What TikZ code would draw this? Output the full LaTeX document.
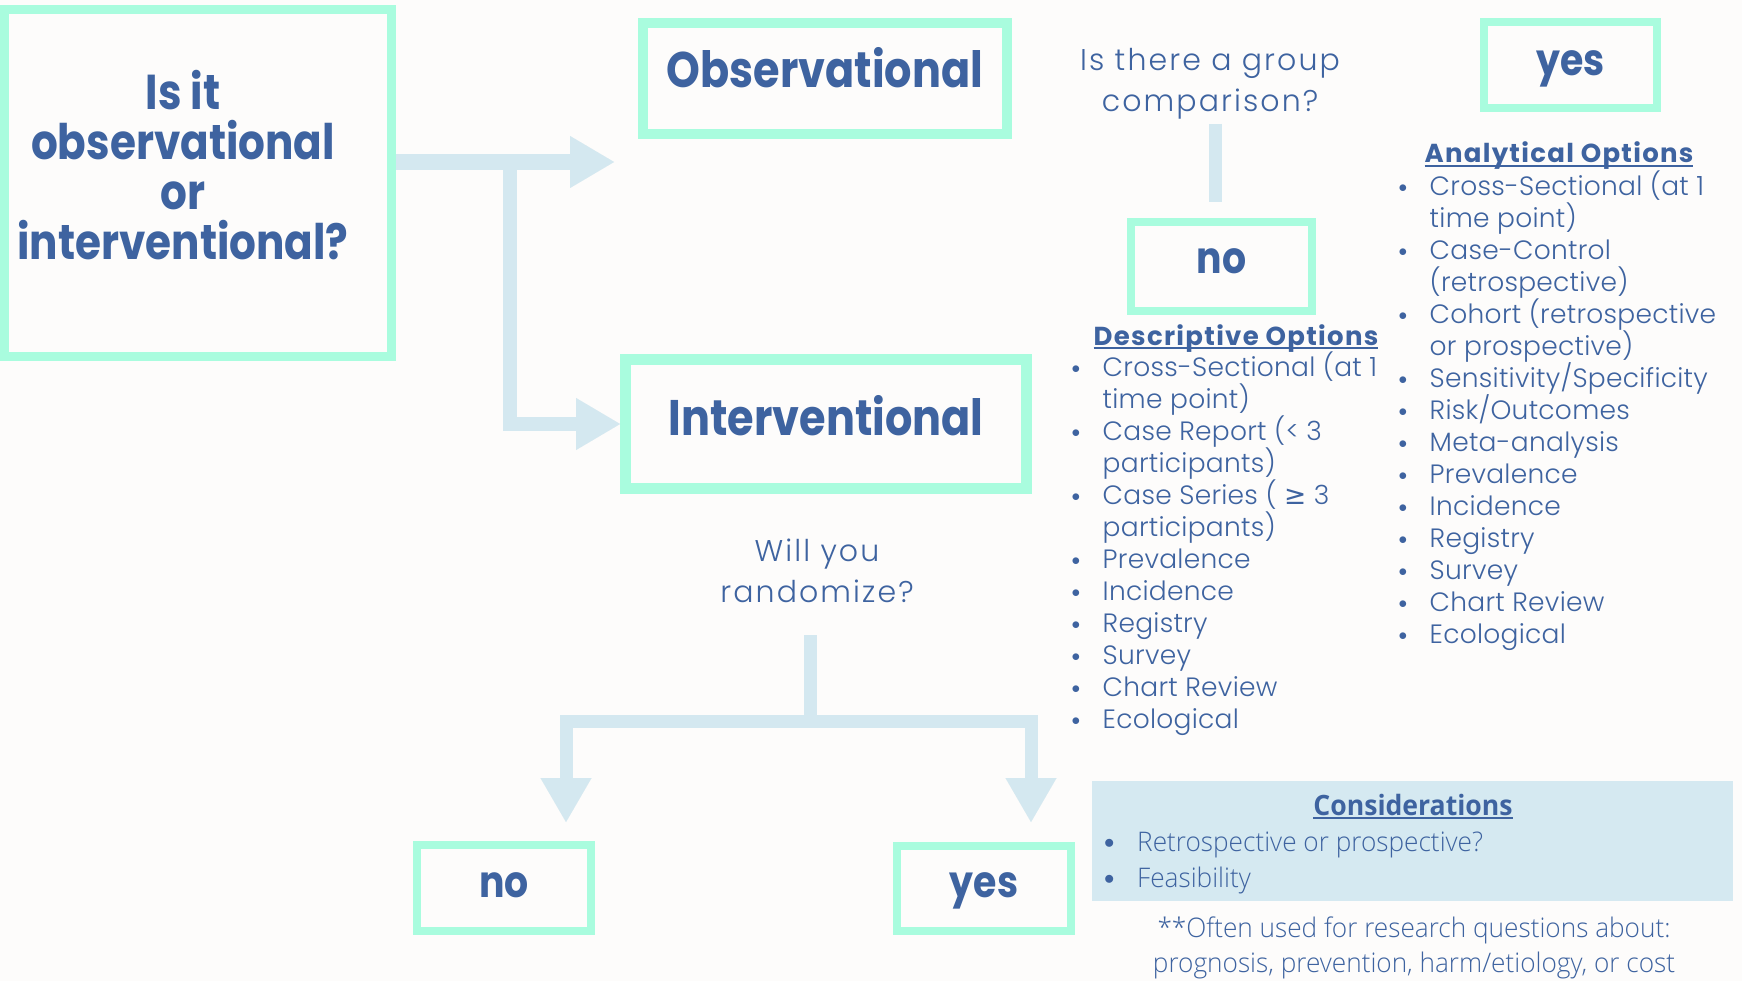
\documentclass[tikz,border=0pt]{standalone}
\usepackage{fontspec}
\usetikzlibrary{arrows.meta}
\newfontfamily\hfont{Poppins}[FakeStretch=0.86]
\newfontfamily\hbfont{Poppins}[LetterSpace=5]
\newfontfamily\lfont{Poppins Light}[LetterSpace=1]
\newfontfamily\qfont{Poppins Light}[LetterSpace=7]
\newfontfamily\ofont{Open Sans}[FakeStretch=0.95]
\newfontfamily\olfont{Open Sans Light}[FakeStretch=0.97]
\newfontfamily\djv{DejaVu Sans}
\definecolor{tblue}{HTML}{3E63A0}
\definecolor{mint}{HTML}{A9FCDE}
\definecolor{lblue}{HTML}{D4E8F0}
\definecolor{panelc}{HTML}{D5E9F1}
\definecolor{bgc}{HTML}{FDFCFB}
\newcommand\myul[1]{\setbox0\hbox{#1}\rlap{\rule[-4pt]{\wd0}{2pt}}\box0}
\newcommand\bul{\makebox[31pt][l]{\raisebox{3pt}{\fontsize{17.28}{14}\selectfont$\bullet$}}}
\newcommand\bigbul{\makebox[33pt][l]{\raisebox{3pt}{\fontsize{20.74}{14}\selectfont$\bullet$}}}
\newcommand\ind{\hspace*{31pt}}
\begin{document}
\begin{tikzpicture}[x=1pt,y=-1pt,
  box/.style={draw=mint, inner sep=0pt, text=tblue, text depth=0pt,
    font=\hfont\bfseries\fontsize{44}{44}\selectfont},
  conn/.style={draw=lblue, line width=14pt, line join=miter},
  bigtip/.style={-{Triangle[length=44pt,width=52pt,line width=0.01pt]}},
  qtext/.style={text=tblue, inner sep=0pt, align=center, anchor=base,
    font=\qfont\fontsize{30}{41}\selectfont},
  listtext/.style={text=tblue, inner sep=0pt, align=left, anchor=base west,
    font=\lfont\fontsize{26.5}{32}\selectfont},
  head/.style={text=tblue, inner sep=0pt, anchor=base,
    font=\hbfont\bfseries\fontsize{26}{26}\selectfont}]
\useasboundingbox[fill=bgc] (0,0) rectangle (1742,981);

% boxes
\node[box, line width=9pt, minimum width=387pt, minimum height=347pt] (q) at (198,183) {};
\node[text=tblue, inner sep=0pt, align=center, anchor=base,
  font=\hfont\bfseries\fontsize{49}{50}\selectfont] (qt) at (183,260)
  {Is it\\observational\\or\\interventional?};
\node[box, line width=10pt, minimum width=364pt, minimum height=111pt, text height=19pt,
  font=\hfont\bfseries\fontsize{50}{50}\selectfont] (obs) at (825,78.5) {Observational};
\node[box, line width=11pt, minimum width=401pt, minimum height=129pt, text height=22pt,
  font=\hfont\bfseries\fontsize{50}{50}\selectfont] (int) at (826,424) {Interventional};
\node[box, line width=8pt, minimum width=173pt, minimum height=86pt, text height=22pt] (yes1) at (1570.5,65) {yes};
\node[box, line width=8pt, minimum width=181pt, minimum height=89pt, text height=15pt] (no1) at (1221.5,266.5) {no};
\node[box, line width=8pt, minimum width=174pt, minimum height=86pt, text height=18pt] (no2) at (504,888) {no};
\node[box, line width=8pt, minimum width=174pt, minimum height=85pt, text height=17pt] (yes2) at (984,888.5) {yes};

% questions
\node[qtext] (gq) at (1210,112) {Is there a group\\comparison?};
\node[qtext] (wr) at (817,602) {Will you\\randomize?};

% connectors
\coordinate (br) at (510,162);
\draw[conn, line width=16pt, bigtip, shorten >=24pt] ([yshift=21pt]q.east) -- ([yshift=21pt]q.east -| obs.west);
\draw[conn, bigtip] (br) |- (int.west);
\draw[conn, line width=13pt, shorten <=95pt, shorten >=17pt] ([xshift=-112pt,yshift=-10pt]yes1.west) -- ([yshift=-10pt]yes1.west);
\draw[conn, line width=13pt] ([xshift=-6.5pt,yshift=94pt]no1.north) -- ([xshift=-6.5pt,yshift=16pt]no1.north);
\coordinate (stem) at (810,635);
\coordinate (split) at (810,721);
\draw[conn, line width=13pt, -{Triangle[length=44pt,width=51pt,line width=0.01pt]}] (stem) -- (split) -| ([xshift=62pt,yshift=19pt]no2.north);
\draw[conn, line width=13pt, -{Triangle[length=44pt,width=51pt,line width=0.01pt]}] (split) -| ([xshift=47pt,yshift=20pt]yes2.north);

% option lists
\node[head] (dh) at (1236,345) {\myul{Descriptive Options}};
\node[listtext] (dl) at (1071.5,728) {\bul Cross-Sectional (at 1\\\ind time point)\\\bul Case Report (< 3\\\ind participants)\\\bul Case Series ( {\djv ≥} 3\\\ind participants)\\\bul Prevalence\\\bul Incidence\\\bul Registry\\\bul Survey\\\bul Chart Review\\\bul Ecological};
\node[head] (ah) at (1559,163) {\myul{Analytical Options}};
\node[listtext] (al) at (1398.5,643) {\bul Cross-Sectional (at 1\\\ind time point)\\\bul Case-Control\\\ind (retrospective)\\\bul Cohort (retrospective\\\ind or prospective)\\\bul Sensitivity/Specificity\\\bul Risk/Outcomes\\\bul Meta-analysis\\\bul Prevalence\\\bul Incidence\\\bul Registry\\\bul Survey\\\bul Chart Review\\\bul Ecological};

% considerations
\node[fill=panelc, inner sep=0pt, minimum width=641pt, minimum height=120pt] (cons) at (1412.5,841) {};
\node[text=tblue, inner sep=0pt, anchor=base, font=\ofont\bfseries\fontsize{28}{28}\selectfont] (ch) at (1413,815) {\myul{Considerations}};
\node[text=tblue, inner sep=0pt, align=left, anchor=base west, font=\olfont\fontsize{27}{36}\selectfont] (cl) at (1104,887) {\bigbul Retrospective or prospective?\\\bigbul Feasibility};
\node[text=tblue, inner sep=0pt, align=center, anchor=base, font=\olfont\fontsize{27}{35}\selectfont] (note) at (1414,972) {**Often used for research questions about:\\prognosis, prevention, harm/etiology, or cost};
\end{tikzpicture}
\end{document}
